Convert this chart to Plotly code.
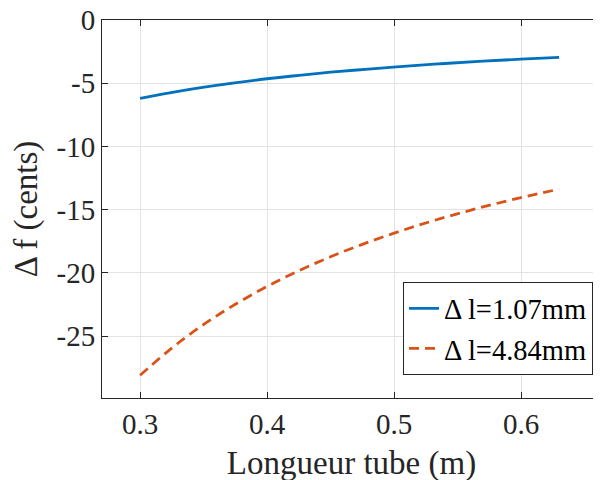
import plotly.graph_objects as go

x_len = [0.30, 0.33, 0.36, 0.39, 0.42, 0.45, 0.48, 0.51, 0.54, 0.57, 0.60, 0.63]
df_107 = [-6.20, -5.64, -5.17, -4.77, -4.43, -4.13, -3.88, -3.65, -3.44, -3.26, -3.10, -2.95]
df_484 = [-28.10, -25.55, -23.42, -21.62, -20.07, -18.73, -17.56, -16.53, -15.61, -14.79, -14.05, -13.38]
names = ["Δ l=1.07mm", "Δ l=4.84mm"]
x_ticks = [0.3, 0.4, 0.5, 0.6]
y_ticks = [0, -5, -10, -15, -20, -25]

FONT = "Liberation Serif"
AX = "#262626"
GRID = "#e3e3e3"

fig = go.Figure()
fig.add_trace(go.Scatter(x=x_len, y=df_107, mode="lines", name=names[0],
                         line=dict(color="#0072BD", width=2.8, shape="spline")))
fig.add_trace(go.Scatter(x=x_len, y=df_484, mode="lines", name=names[1],
                         line=dict(color="#D95319", width=2.8, dash="10px,6px", shape="spline")))

fig.update_layout(
    width=601, height=480,
    margin=dict(l=94, r=8, t=12, b=90),
    paper_bgcolor="white", plot_bgcolor="white",
    font=dict(family=FONT, color=AX),
    showlegend=True,
    legend=dict(x=0.984, y=0.06, xanchor="right", yanchor="bottom",
                bgcolor="white", bordercolor=AX, borderwidth=1,
                font=dict(family=FONT, size=28.5, color="black"),
                tracegroupgap=0, itemwidth=30),
    xaxis=dict(range=[0.27, 0.663], tickvals=x_ticks, ticktext=[f"{v:.1f}" for v in x_ticks],
               automargin=False, ticklabeloverflow="allow",
               showgrid=True, gridcolor=GRID, gridwidth=1, zeroline=False,
               showline=True, linecolor=AX, linewidth=1, mirror="ticks",
               ticks="inside", ticklen=6, tickcolor=AX,
               tickfont=dict(family=FONT, size=29, color=AX),
               title=dict(text="Longueur tube (m)", font=dict(family=FONT, size=33, color=AX), standoff=12)),
    yaxis=dict(range=[-29.9, 0], tickvals=y_ticks, ticktext=[str(v) for v in y_ticks],
               automargin=False, ticklabeloverflow="allow",
               showgrid=True, gridcolor=GRID, gridwidth=1, zeroline=False,
               showline=True, linecolor=AX, linewidth=1, mirror=False,
               ticks="inside", ticklen=6, tickcolor=AX,
               tickfont=dict(family=FONT, size=29, color=AX),
               title=dict(text="Δ f (cents)", font=dict(family=FONT, size=33, color=AX), standoff=8)),
)

fig.write_html("out.html")
